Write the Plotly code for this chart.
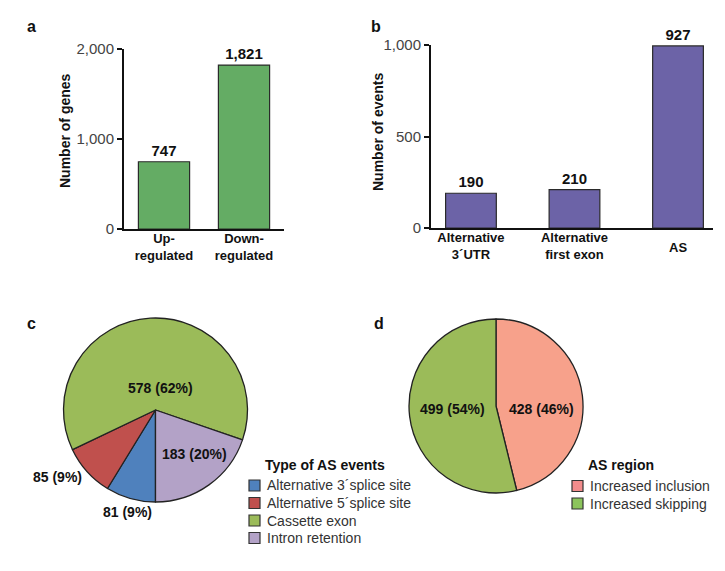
import plotly.graph_objects as go

# ---- data ----
a_categories = ["Up-<br>regulated", "Down-<br>regulated"]
a_values = [747, 1821]
a_labels = ["747", "1,821"]

b_categories = ["Alternative<br>3´UTR", "Alternative<br>first exon", "AS"]
b_values = [190, 210, 995]          # bar heights as drawn
b_labels = ["190", "210", "927"]    # printed values

c_labels = ["Alternative 3´splice site", "Alternative 5´splice site", "Cassette exon", "Intron retention"]
c_values = [81, 85, 578, 183]
c_text = ["81 (9%)", "85 (9%)", "578 (62%)", "183 (20%)"]
c_colors = ["#4F81BD", "#C0504D", "#9BBB59", "#B3A2C7"]

d_labels = ["Increased inclusion", "Increased skipping"]
d_values = [428, 499]
d_text = ["428 (46%)", "499 (54%)"]
d_colors = ["#F7A18B", "#9BBB59"]
d_legend_colors = ["#F28C8C", "#8CC45C"]

W, H = 725, 571
FONT = "Arial, Liberation Sans, sans-serif"

def px(x):
    return x / W

def py(y):
    return 1 - y / H

fig = go.Figure()

fig.add_trace(go.Bar(
    x=list(range(len(a_values))), y=a_values, text=a_labels, textposition="outside",
    constraintext="none", cliponaxis=False, width=0.64,
    marker=dict(color="#64AC64", line=dict(color="#2a2a2a", width=1.2)),
    textfont=dict(family=FONT, size=15, color="#111"),
    texttemplate="<b>%{text}</b>", xaxis="x", yaxis="y", showlegend=False, hoverinfo="skip"))

fig.add_trace(go.Bar(
    x=list(range(len(b_values))), y=b_values, text=b_labels, textposition="outside",
    constraintext="none", cliponaxis=False, width=0.49,
    marker=dict(color="#6C63A7", line=dict(color="#2a2a2a", width=1.2)),
    textfont=dict(family=FONT, size=15, color="#111"),
    texttemplate="<b>%{text}</b>", xaxis="x2", yaxis="y2", showlegend=False, hoverinfo="skip"))

fig.add_trace(go.Pie(
    labels=c_labels, values=c_values, sort=False, direction="clockwise", rotation=180,
    marker=dict(colors=c_colors, line=dict(color="#222", width=1.3)),
    textinfo="none", hoverinfo="skip", showlegend=False,
    domain=dict(x=[px(63), px(248)], y=[py(502), py(318)])))

fig.add_trace(go.Pie(
    labels=d_labels, values=d_values, sort=False, direction="clockwise", rotation=0,
    marker=dict(colors=d_colors, line=dict(color="#222", width=1.3)),
    textinfo="none", hoverinfo="skip", showlegend=False,
    domain=dict(x=[px(408), px(584)], y=[py(493), py(319)])))

axis_common = dict(showline=True, linecolor="#111", linewidth=2, showgrid=False, zeroline=False)

fig.update_layout(
    width=W, height=H, margin=dict(l=0, r=0, t=0, b=0, autoexpand=False),
    paper_bgcolor="white", plot_bgcolor="white", showlegend=False,
    font=dict(family=FONT, color="#222"),
    xaxis=dict(domain=[px(124), px(284)], range=[-0.5, 1.5], tickvals=list(range(len(a_categories))),
               ticktext=[f"<b>{t}</b>" for t in a_categories], ticks="",
               tickfont=dict(family=FONT, size=13, color="#111"), anchor="y", **axis_common),
    yaxis=dict(domain=[py(229), py(49)], range=[0, 2000], tickvals=[0, 1000, 2000], tickformat=",",
               ticks="outside", ticklen=5, tickwidth=1.5, tickcolor="#111",
               tickfont=dict(family=FONT, size=15, color="#444"), anchor="x", **axis_common),
    xaxis2=dict(domain=[px(431), px(713)], range=[-0.386, 2.338], tickvals=list(range(len(b_categories))),
                ticktext=[f"<b>{t}</b>" if t != "AS" else "" for t in b_categories], ticks="",
                tickfont=dict(family=FONT, size=13, color="#111"), anchor="y2", **axis_common),
    yaxis2=dict(domain=[py(228), py(45)], range=[0, 1000], tickvals=[0, 500, 1000], tickformat=",",
                ticks="outside", ticklen=5, tickwidth=1.5, tickcolor="#111",
                tickfont=dict(family=FONT, size=15, color="#444"), anchor="x2", **axis_common),
)
try:
    fig.update_layout(xaxis_ticklabelstandoff=-4, xaxis2_ticklabelstandoff=-4)
except Exception:
    pass

ann = []
shapes = []
def add_text(x, y, text, size=13, bold=True, xanchor="center", angle=0, color="#111", xref="paper", yref="paper"):
    ann.append(dict(x=x, y=y, xref=xref, yref=yref, text=f"<b>{text}</b>" if bold else text,
                    showarrow=False, xanchor=xanchor, yanchor="middle", textangle=angle,
                    font=dict(family=FONT, size=size, color=color)))

# panel letters
add_text(px(32), py(27), "a", size=16)
add_text(px(376), py(27), "b", size=16)
add_text(px(32), py(323), "c", size=16)
add_text(px(379), py(323), "d", size=16)

# axis titles
add_text(px(65), py(131), "Number of genes", size=14, angle=-90)
add_text(px(378), py(132), "Number of events", size=14, angle=-90)

# "AS" x label centred on two-line block
add_text(2, py(247), b_categories[2], size=13, xref="x2")

# pie labels
c_pos = [(128, 512), (57, 477), (160, 388), (194, 454)]
for (x, y), t in zip(c_pos, c_text):
    add_text(px(x), py(y), t, size=14)
d_pos = [(541, 409), (452, 409)]
for (x, y), t in zip(d_pos, d_text):
    add_text(px(x), py(y), t, size=14)

# legends (drawn manually to match the compact spacing)
def legend(x_box, x_text, y_title, y_first, title, labels, colors, step=17.5):
    add_text(px(x_text - 2), py(y_title), title, size=14, xanchor="left")
    for i, (lab, col) in enumerate(zip(labels, colors)):
        yc = y_first + i * step
        shapes.append(dict(type="rect", xref="paper", yref="paper",
                           x0=px(x_box), x1=px(x_box + 11), y0=py(yc + 5.5), y1=py(yc - 5.5),
                           fillcolor=col, line=dict(color="#333", width=1.2)))
        add_text(px(x_text), py(yc), lab, size=14, bold=False, xanchor="left", color="#333")

legend(249, 265, 465, 485.5, "Type of AS events", c_labels, c_colors)
legend(572, 588, 465, 486, "AS region", d_labels, d_legend_colors)

fig.update_layout(annotations=ann, shapes=shapes)
fig.write_html("out.html")
